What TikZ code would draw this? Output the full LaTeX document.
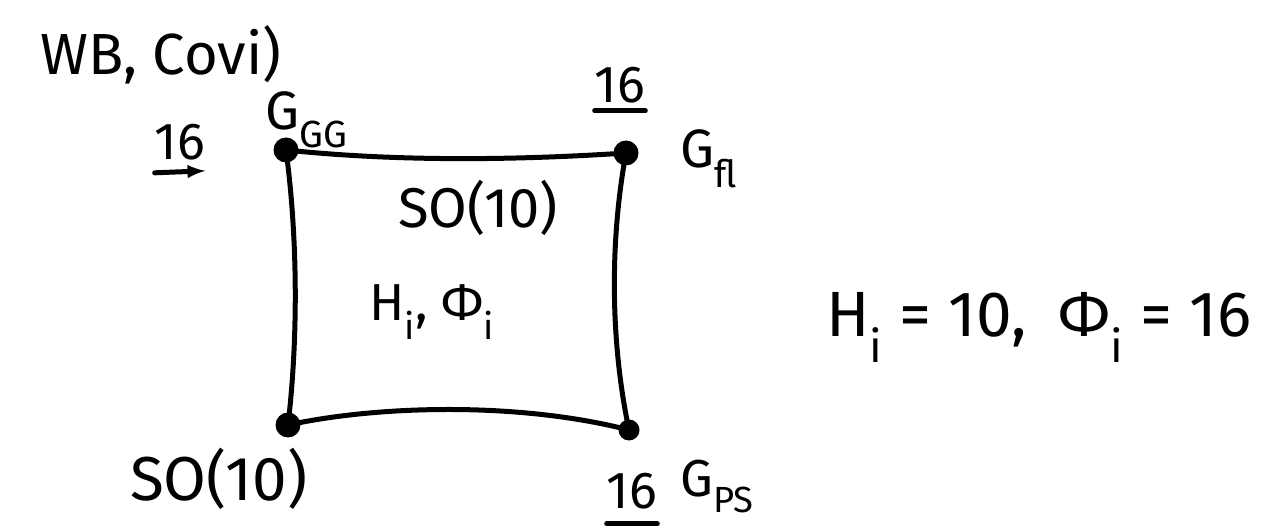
\documentclass[tikz,border=0pt]{standalone}
\usepackage{fontspec}
\setmainfont{Fira Sans}
\begin{document}
\begin{tikzpicture}[x=1pt,y=-1pt,
  vtx/.style={circle, fill=black, inner sep=0pt, minimum size=25pt},
  edge/.style={line width=5pt, line cap=round},
  lbl/.style={inner sep=0pt, font=\fontsize{#1}{#1}\selectfont},
  lbl/.default=56,
  bar/.style={line width=5pt, line cap=round}]
\useasboundingbox (0,0) rectangle (1277,529);
% corners
\node[vtx] (tl) at (286,150) {};
\node[vtx] (tr) at (626,153) {};
\node[vtx] (bl) at (288,425) {};
\node[vtx, minimum size=21pt] (br) at (629,430) {};
% edges
\draw[edge] (tl.center) .. controls (400,162) and (520,160) .. (tr.center);
\draw[edge] (tl.center) .. controls (298,240) and (298,340) .. (bl.center);
\draw[edge] (tr.center) .. controls (610,240) and (610,340) .. (br.center);
\draw[edge] (bl.center) .. controls (380,405) and (520,402) .. (br.center);
% labels
\node[lbl=58, anchor=base west] (wb) at (40,75) {WB, Covi)};
\node[lbl=54, anchor=base west] (ggg) at (265,130) {G\textsubscript{GG}};
\node[lbl=54, anchor=base west] (gfl) at (680,168) {G\textsubscript{fl}};
\node[lbl=52, anchor=base west] (gps) at (680,496) {G\textsubscript{PS}};
\node[lbl=52, anchor=base] (n1) at (180,160) {16};
\draw[bar, -latex] ([yshift=-12pt]n1.south west) -- ([yshift=-10pt]n1.south east);
\node[lbl=52, anchor=base] (n2) at (620,103) {16};
\draw[bar] ([yshift=-7pt]n2.south west) -- ([yshift=-7pt]n2.south east);
\node[lbl=52, anchor=base] (n3) at (632,508) {16};
\draw[bar] ([yshift=-15pt]n3.south west) -- ([yshift=-15pt]n3.south east);
\node[lbl=56] (so1) at (478,208) {SO(10)};
\node[lbl=52] (hp1) at (432,312) {H\textsubscript{i}, Φ\textsubscript{i}};
\node[lbl=62, anchor=base west] (so2) at (130,500) {SO(10)};
\node[lbl=64, anchor=base west] (eq) at (826,336) {H\textsubscript{i} = 10,\enspace Φ\textsubscript{i} = 16};
\end{tikzpicture}
\end{document}
